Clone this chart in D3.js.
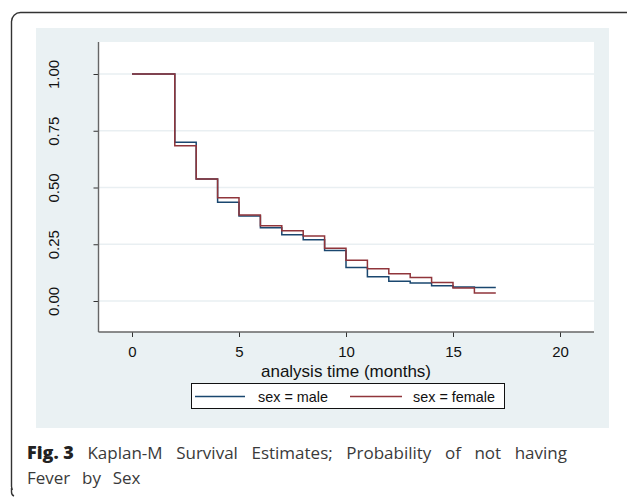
<!DOCTYPE html>
<html><head><meta charset="utf-8">
<script src="https://cdn.jsdelivr.net/npm/d3@7"></script>
<style>body{margin:0;background:#fff}svg{display:block}</style>
</head><body><svg id="c" width="627" height="497"></svg>
<script>
const times = [0,2,3,4,5,6,7,8,9,10,11,12,13,14,15,16,17];
const maleSurv =   [1.0,0.699,0.537,0.435,0.375,0.323,0.292,0.270,0.222,0.148,0.107,0.087,0.079,0.067,0.062,0.059,0.059];
const femaleSurv = [1.0,0.684,0.537,0.455,0.379,0.332,0.310,0.286,0.232,0.179,0.142,0.120,0.103,0.082,0.057,0.035,0.035];
const xTicks = [0,5,10,15,20];
const yTicks = [0,0.25,0.5,0.75,1];
const yTickLabels = ["0.00","0.25","0.50","0.75","1.00"];
const seriesNames = ["sex = male","sex = female"];
const seriesColors = ["#1a476f","#90353b"];
const captionBold = "Fig. 3";
const captionLine1 = "Kaplan-M Survival Estimates; Probability of not having";
const captionLine2 = "Fever by Sex";

const AX = "'Liberation Sans',Arial,sans-serif";
const svg = d3.select("#c");
// outer frame
svg.append("rect").attr("x",11.5).attr("y",12.5).attr("width",700).attr("height",483)
  .attr("rx",9).attr("fill","none").attr("stroke","#333").attr("stroke-width",1.4);
svg.append("rect").attr("x",11.5).attr("y",490).attr("width",700).attr("height",20).attr("fill","#fff");
svg.append("path").attr("d","M11.5,488 L11.5,492 Q11.5,495 14,496").attr("fill","none").attr("stroke","#333").attr("stroke-width",1.4);

// panel
svg.append("rect").attr("x",36).attr("y",28).attr("width",573).attr("height",400).attr("fill","#eaf1f3");
const pl=98.5, pr=594, pt=42, pb=332;
svg.append("rect").attr("x",pl).attr("y",pt).attr("width",pr-pl).attr("height",pb-pt).attr("fill","#fff");

const x = d3.scaleLinear().domain([0,20]).range([132,560]);
const y = d3.scaleLinear().domain([0,1]).range([301,74]);

// gridlines
svg.append("g").selectAll("line").data(yTicks).join("line")
  .attr("x1",pl).attr("x2",pr).attr("y1",d=>y(d)).attr("y2",d=>y(d))
  .attr("stroke","#e9eff2").attr("stroke-width",1.5);

// axes
const yAxis = d3.axisLeft(y).tickValues(yTicks).tickSize(5).tickFormat((d,i)=>yTickLabels[i]);
const gy = svg.append("g").attr("transform",`translate(${pl},0)`).call(yAxis);
gy.attr("font-size",null).attr("font-family",null);
gy.select(".domain").remove();
gy.selectAll(".tick line").attr("stroke","#333");
gy.selectAll(".tick text").attr("text-anchor","middle")
  .attr("x",0).attr("y",0).attr("dy",0)
  .attr("transform",`translate(${59-pl},0) rotate(-90)`)
  .attr("font-family",AX).attr("font-size",15).attr("fill","#111");
svg.append("line").attr("x1",pl).attr("x2",pl).attr("y1",pt).attr("y2",pb).attr("stroke","#666").attr("stroke-width",1.4);

const xAxis = d3.axisBottom(x).tickValues(xTicks).tickSize(5);
const gx = svg.append("g").attr("transform",`translate(0,${pb})`).call(xAxis);
gx.attr("font-size",null).attr("font-family",null);
gx.select(".domain").remove();
gx.selectAll(".tick line").attr("stroke","#333");
gx.selectAll(".tick text").attr("dy",0).attr("y",25)
  .attr("font-family",AX).attr("font-size",15).attr("fill","#111");
svg.append("line").attr("x1",pl).attr("x2",pr).attr("y1",pb).attr("y2",pb).attr("stroke","#666").attr("stroke-width",1.4);

svg.append("text").attr("x",x(10)).attr("y",377).attr("text-anchor","middle")
  .attr("font-family",AX).attr("font-size",17).attr("fill","#111")
  .text("analysis time (months)");

// step lines
const line = d3.line().x(d=>x(d[0])).y(d=>y(d[1])).curve(d3.curveStepAfter);
[maleSurv,femaleSurv].forEach((s,i)=>{
  const pts = times.map((t,j)=>[t,s[j]]);
  svg.append("path").attr("d",line(pts)).attr("fill","none")
    .attr("stroke",seriesColors[i]).attr("stroke-width",1.5);
});

// legend
const lg = svg.append("g");
lg.append("rect").attr("x",191.5).attr("y",383.5).attr("width",313).attr("height",25)
  .attr("fill","#fff").attr("stroke","#111").attr("stroke-width",1);
const legX = [[195,245,258],[350,402,413]];
seriesNames.forEach((n,i)=>{
  lg.append("line").attr("x1",legX[i][0]).attr("x2",legX[i][1]).attr("y1",396.5).attr("y2",396.5)
    .attr("stroke",seriesColors[i]).attr("stroke-width",1.3);
  lg.append("text").attr("x",legX[i][2]).attr("y",402)
    .attr("font-family",AX).attr("font-size",14.4).attr("fill","#111").text(n);
});

// caption
const CF = "'Open Sans',sans-serif";
const cap = svg.append("text").attr("x",27).attr("y",459)
  .attr("font-family",CF).attr("font-size",17).attr("fill","#3a3a3a");
cap.append("tspan").attr("font-weight",800).attr("font-size",18).attr("fill","#222")
  .attr("word-spacing",0).text(captionBold);
const rest = cap.append("tspan").text(" " + captionLine1);
const w1 = cap.node().getComputedTextLength();
const nSp = captionLine1.split(" ").length;
const ws = Math.max(0, (567 - 27 - w1) / nSp);
rest.attr("word-spacing", ws);
svg.append("text").attr("x",27).attr("y",484)
  .attr("font-family",CF).attr("font-size",17).attr("fill","#3a3a3a")
  .attr("word-spacing", ws * 0.8)
  .text(captionLine2);
</script></body></html>
